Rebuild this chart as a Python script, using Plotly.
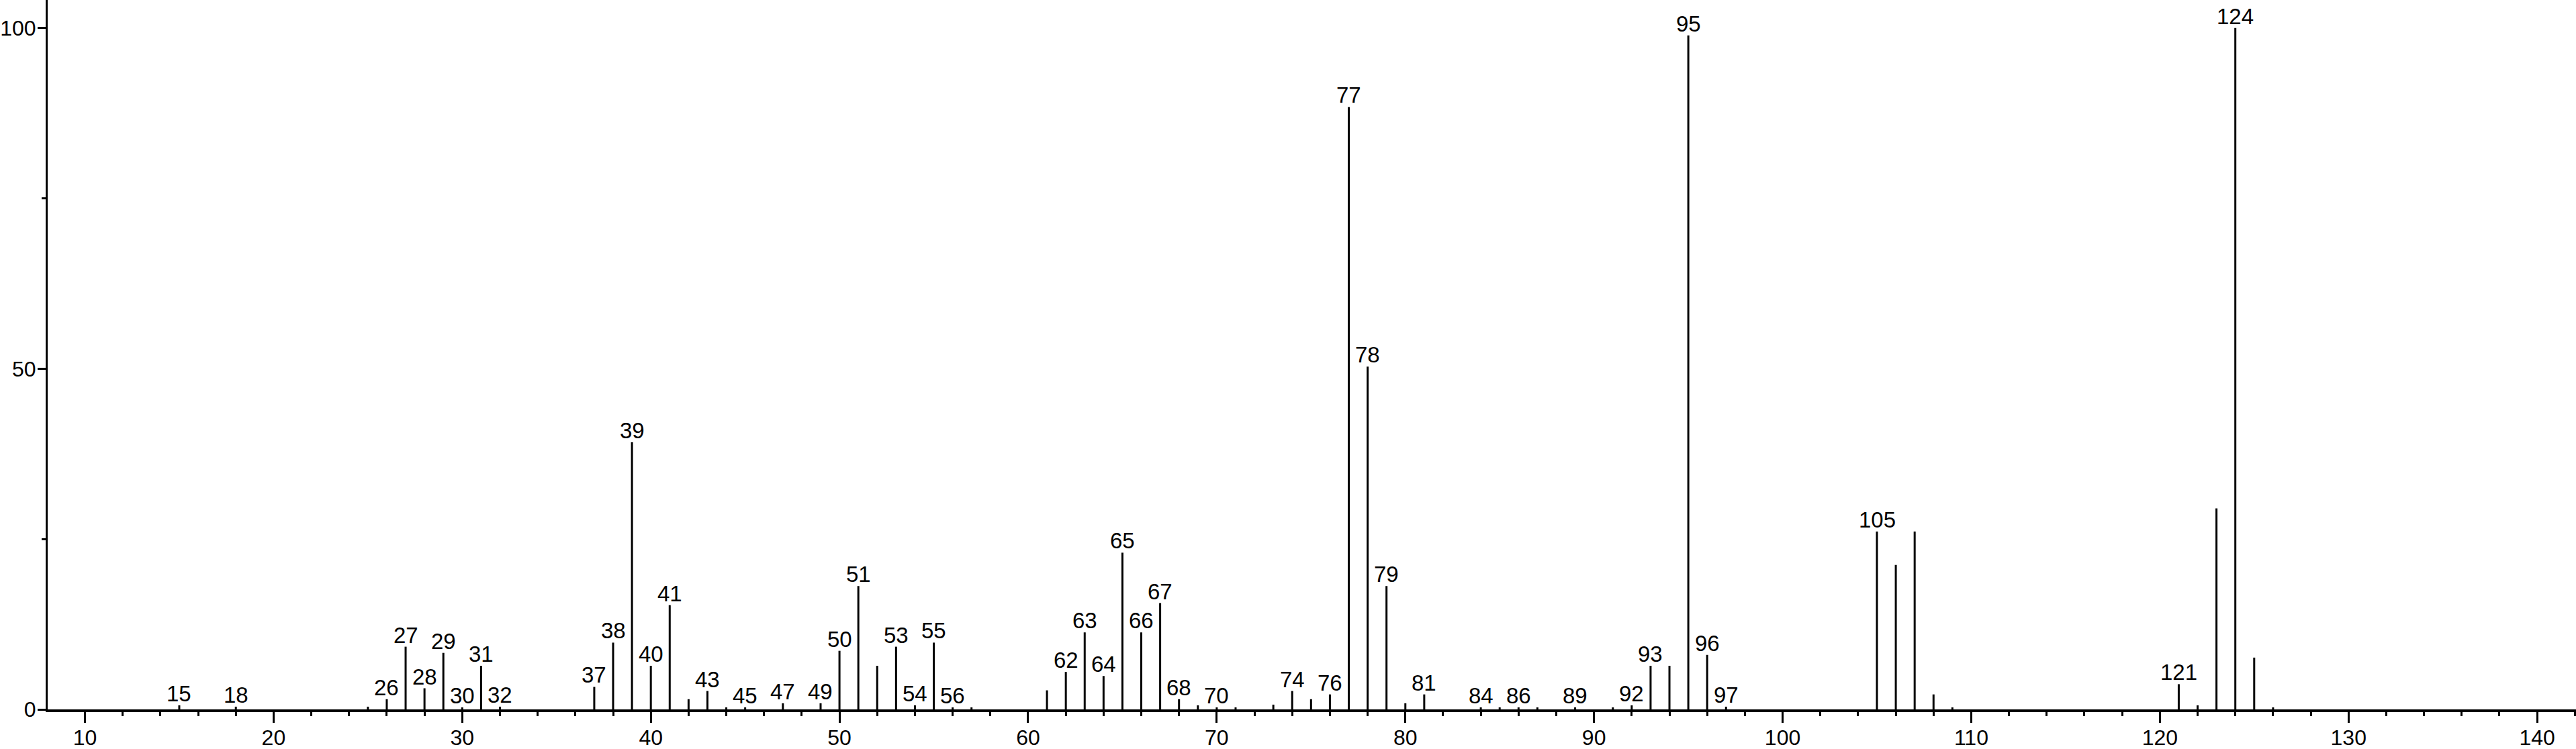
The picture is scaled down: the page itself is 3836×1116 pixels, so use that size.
import plotly.graph_objects as go

# m/z values and relative intensities (%)
mz = [15, 18, 25, 26, 27, 28, 29, 30, 31, 32, 37, 38, 39, 40, 41, 42, 43, 44, 45,
      47, 49, 50, 51, 52, 53, 54, 55, 56, 57, 61, 62, 63, 64, 65, 66, 67, 68, 69,
      70, 71, 73, 74, 75, 76, 77, 78, 79, 80, 81, 84, 85, 86, 87, 89, 91, 92, 93,
      94, 95, 96, 97, 105, 106, 107, 108, 109, 121, 122, 123, 124, 125, 126]
intensity = [0.6, 0.4, 0.4, 1.5, 9.2, 3.1, 8.3, 0.3, 6.4, 0.4, 3.3, 9.8, 39.2, 6.4, 15.3, 1.5, 2.7, 0.3, 0.3,
             0.9, 0.9, 8.6, 18.1, 6.4, 9.2, 0.6, 9.8, 0.3, 0.3, 2.8, 5.5, 11.3, 4.9, 23.0, 11.3, 15.6, 1.5, 0.6,
             0.3, 0.3, 0.7, 2.7, 1.5, 2.2, 88.4, 50.3, 18.1, 0.9, 2.2, 0.3, 0.3, 0.3, 0.3, 0.3, 0.3, 0.6, 6.4,
             6.4, 98.9, 8.0, 0.4, 26.1, 21.2, 26.1, 2.2, 0.3, 3.7, 0.6, 29.5, 100.0, 7.6, 0.3]

labeled = [15, 18, 26, 27, 28, 29, 30, 31, 32, 37, 38, 39, 40, 41, 43, 45, 47, 49, 50, 51,
           53, 54, 55, 56, 62, 63, 64, 65, 66, 67, 68, 70, 74, 76, 77, 78, 79, 81, 84, 86,
           89, 92, 93, 95, 96, 97, 105, 121, 124]

x_ticks = [10, 20, 30, 40, 50, 60, 70, 80, 90, 100, 110, 120, 130, 140]
y_ticks = [0, 50, 100]

FONT = "Liberation Sans, Arial, sans-serif"

xs, ys = [], []
for m, v in zip(mz, intensity):
    xs += [m, m, None]
    ys += [0, v, None]

fig = go.Figure()
fig.add_trace(go.Scatter(x=xs, y=ys, mode="lines",
                         line=dict(color="black", width=3),
                         hoverinfo="skip", showlegend=False))

lookup = dict(zip(mz, intensity))
annotations = []
for m in labeled:
    annotations.append(dict(x=m, y=lookup[m], text=str(m), showarrow=False,
                            xanchor="center", yanchor="bottom", yshift=-3,
                            font=dict(family=FONT, size=33, color="black")))

fig.update_layout(
    width=3836, height=1116,
    margin=dict(l=71, r=0, t=0, b=59),
    paper_bgcolor="white", plot_bgcolor="white",
    annotations=annotations,
    xaxis=dict(range=[8.024, 142.06], tickvals=x_ticks, ticks="outside",
               ticklen=16, tickwidth=3, tickcolor="black",
               showline=True, linecolor="black", linewidth=4,
               showgrid=False, zeroline=False, automargin=False,
               ticklabelstandoff=-5,
               tickfont=dict(family=FONT, size=32, color="black"),
               minor=dict(dtick=2, tick0=0, ticks="outside", ticklen=6,
                          tickwidth=3, tickcolor="black", showgrid=False)),
    yaxis=dict(range=[0, 104.1], tickvals=y_ticks, ticks="outside",
               ticklen=12, tickwidth=3, tickcolor="black",
               showline=True, linecolor="black", linewidth=3,
               showgrid=False, zeroline=False, automargin=False,
               ticklabelstandoff=-4,
               tickfont=dict(family=FONT, size=32, color="black"),
               minor=dict(dtick=25, tick0=0, ticks="outside", ticklen=6,
                          tickwidth=3, tickcolor="black", showgrid=False)),
)

fig.write_html("out.html", config={"displayModeBar": False},
               post_script="document.body.style.margin='0';document.body.style.overflow='hidden';")
